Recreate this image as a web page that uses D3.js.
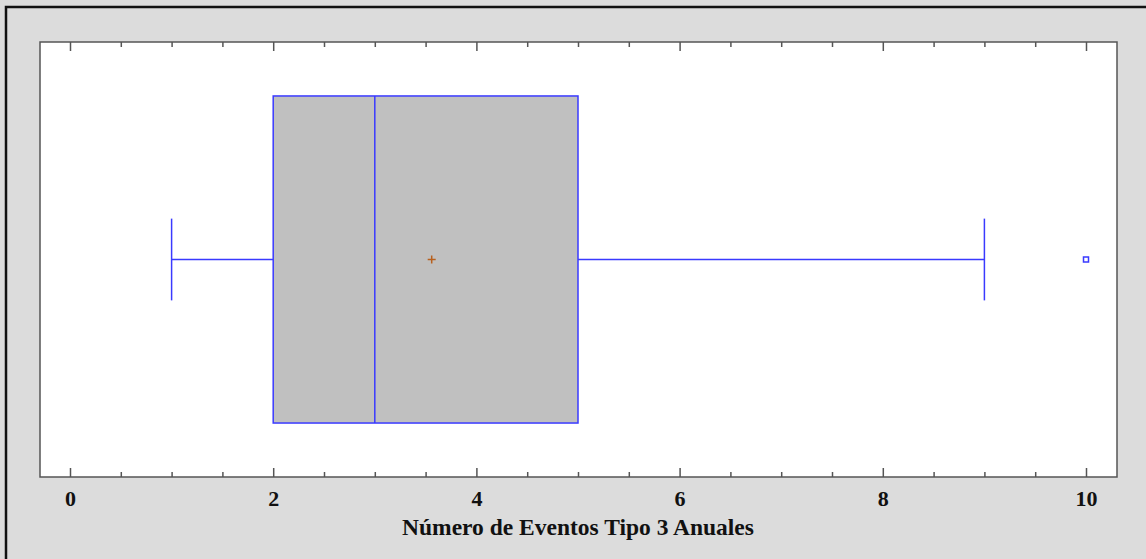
<!DOCTYPE html>
<html>
<head>
<meta charset="utf-8">
<script src="https://cdn.jsdelivr.net/npm/d3@7"></script>
<style>
  body { margin: 0; background: #dcdcdc; }
  svg { display: block; }
  .tick text { font-family: "Liberation Serif", "Times New Roman", serif; font-weight: bold; font-size: 22px; fill: #111; }
</style>
</head>
<body>
<script>
'use strict';

// box plot statistics
var category = ['Eventos Tipo 3'];
var whiskerLow = [1];
var q1 = [2];
var median = [3];
var q3 = [5];
var whiskerHigh = [9];
var mean = [3.56];
var outliers = [10];
var tickValues = [0, 2, 4, 6, 8, 10];
var axisTitle = 'Número de Eventos Tipo 3 Anuales';

var width = 1146, height = 559;
var plot = {left: 40, top: 42, right: 1117, bottom: 477};

var svg = d3.select('body').append('svg')
    .attr('width', width)
    .attr('height', height);

// outer frame
svg.append('rect')
    .attr('x', 6).attr('y', 7)
    .attr('width', width + 10).attr('height', height + 10)
    .attr('fill', '#dcdcdc')
    .attr('stroke', '#111')
    .attr('stroke-width', 2.5);

// plot area
svg.append('rect')
    .attr('x', plot.left).attr('y', plot.top)
    .attr('width', plot.right - plot.left)
    .attr('height', plot.bottom - plot.top)
    .attr('fill', '#fff')
    .attr('stroke', '#555')
    .attr('stroke-width', 1.5);

// x scale: 0 at 70, 10 at 1086
var x = d3.scaleLinear().domain([0, 10]).range([70, 1086]);

// y scale for single category
var y = d3.scaleBand().domain(category).range([plot.top, plot.bottom]).paddingInner(0).paddingOuter(0.165);
var yc = function(d) { return y(d) + y.bandwidth() / 2; };

var minorTicks = d3.range(0, 10.01, 0.5).filter(function(v) { return v % 2 !== 0; });

// bottom axis with ticks pointing inward
var bottomAxis = svg.append('g')
    .attr('transform', 'translate(0,' + plot.bottom + ')')
    .call(d3.axisBottom(x).tickValues(tickValues).tickSize(-9).tickPadding(13).tickFormat(d3.format('d')));
bottomAxis.select('.domain').remove();
bottomAxis.selectAll('.tick line').attr('stroke', '#555').attr('stroke-width', 1.5);

var bottomMinor = svg.append('g')
    .attr('transform', 'translate(0,' + plot.bottom + ')')
    .call(d3.axisBottom(x).tickValues(minorTicks).tickSize(-5).tickFormat(''));
bottomMinor.select('.domain').remove();
bottomMinor.selectAll('.tick line').attr('stroke', '#555').attr('stroke-width', 1.5);

// top axis (ticks only)
var topAxis = svg.append('g')
    .attr('transform', 'translate(0,' + plot.top + ')')
    .call(d3.axisTop(x).tickValues(tickValues).tickSize(-9).tickFormat(''));
topAxis.select('.domain').remove();
topAxis.selectAll('.tick line').attr('stroke', '#555').attr('stroke-width', 1.5);

var topMinor = svg.append('g')
    .attr('transform', 'translate(0,' + plot.top + ')')
    .call(d3.axisTop(x).tickValues(minorTicks).tickSize(-5).tickFormat(''));
topMinor.select('.domain').remove();
topMinor.selectAll('.tick line').attr('stroke', '#555').attr('stroke-width', 1.5);

// axis title
svg.append('text')
    .attr('x', 578)
    .attr('y', 535)
    .attr('text-anchor', 'middle')
    .attr('font-family', '"Liberation Serif", "Times New Roman", serif')
    .attr('font-weight', 'bold')
    .attr('font-size', 23.5)
    .attr('fill', '#111')
    .text(axisTitle);

var blue = '#3a3aff';
var g = svg.append('g');

category.forEach(function(c, i) {
    var cy = yc(c);
    var capHalf = y.bandwidth() * 0.125;

    // whisker line
    g.append('line')
        .attr('x1', x(whiskerLow[i])).attr('x2', x(whiskerHigh[i]))
        .attr('y1', cy).attr('y2', cy)
        .attr('stroke', blue).attr('stroke-width', 1.5);

    // caps
    [whiskerLow[i], whiskerHigh[i]].forEach(function(v) {
        g.append('line')
            .attr('x1', x(v)).attr('x2', x(v))
            .attr('y1', cy - capHalf).attr('y2', cy + capHalf)
            .attr('stroke', blue).attr('stroke-width', 1.5);
    });

    // box
    g.append('rect')
        .attr('x', x(q1[i])).attr('y', y(c))
        .attr('width', x(q3[i]) - x(q1[i]))
        .attr('height', y.bandwidth())
        .attr('fill', '#c0c0c0')
        .attr('stroke', blue).attr('stroke-width', 1.5);

    // median
    g.append('line')
        .attr('x1', x(median[i])).attr('x2', x(median[i]))
        .attr('y1', y(c)).attr('y2', y(c) + y.bandwidth())
        .attr('stroke', blue).attr('stroke-width', 1.5);

    // mean marker
    g.append('path')
        .attr('d', 'M' + (x(mean[i]) - 4) + ',' + cy + 'h8M' + x(mean[i]) + ',' + (cy - 4) + 'v8')
        .attr('stroke', '#b8601e').attr('stroke-width', 1.5);

    // outliers
    g.selectAll('.outlier')
        .data(outliers)
        .enter().append('rect')
        .attr('class', 'outlier')
        .attr('x', function(d) { return x(d) - 2.5; })
        .attr('y', cy - 2.5)
        .attr('width', 5).attr('height', 5)
        .attr('fill', '#fff')
        .attr('stroke', blue).attr('stroke-width', 1.5);
});
</script>
</body>
</html>
